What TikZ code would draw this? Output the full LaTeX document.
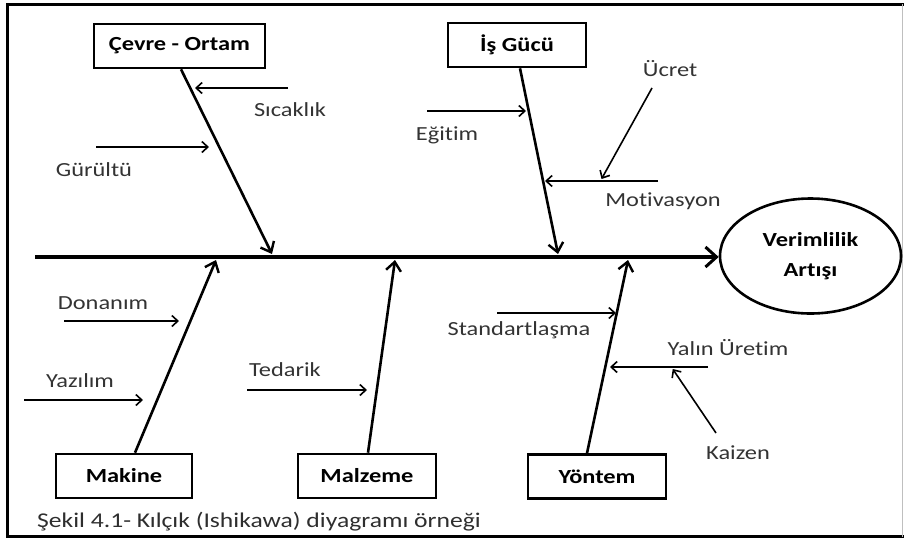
\documentclass[tikz,border=0pt]{standalone}
\usepackage{fontspec}
\setmainfont{Carlito}[FakeStretch=1.22,Ligatures=NoCommon]
\usetikzlibrary{arrows.meta,shapes.geometric,calc}

\begin{document}
\begin{tikzpicture}[x=1pt,y=-1pt,
  catbox/.style={draw,line width=2.6pt,inner sep=0pt,minimum height=44pt,
    font=\fontsize{20}{24}\selectfont\bfseries},
  lbl/.style={inner sep=0pt,text=black!80,font=\fontsize{20}{24}\selectfont},
  bone/.style={line width=2.6pt,-{Straight Barb[length=9pt,width=15pt,line width=2.4pt]}},
  twig/.style={line width=1.6pt,-{Straight Barb[length=6pt,width=11pt,line width=1.6pt]}}]

\useasboundingbox (0,0) rectangle (904,539);

% outer frame
\draw[line width=3pt] (904,4) -- (7.5,4) -- (7.5,536.5) -- (904,536.5);
\draw[black!25,line width=0.8pt] (902,4) -- (902,536.5);

% effect
\node[draw,ellipse,line width=2.6pt,minimum width=181pt,minimum height=115pt,
      align=center,font=\fontsize{20}{30}\selectfont\bfseries] (eff) at (810.5,256)
      {Verimlilik\\Artışı};

% spine
\coordinate (tail) at (35,257);
\draw[line width=3.6pt,-{Straight Barb[length=11pt,width=20pt,line width=3pt]}]
  (tail) -- (eff.west |- tail);

% categories
\node[catbox,minimum width=171pt] (cevre) at (179.5,46) {Çevre - Ortam};
\node[catbox,minimum width=138pt] (is)    at (517,45)   {İş Gücü};
\node[catbox,minimum width=136pt] (mak)   at (124,476)  {Makine};
\node[catbox,minimum width=138pt] (malz)  at (367,476)  {Malzeme};
\node[catbox,minimum width=138pt] (yon)   at (597,476.5){Yöntem};

% bone ends on the spine
\coordinate (cT) at (272,254);
\coordinate (iT) at (558,254);
\coordinate (mT) at (216,260);
\coordinate (zT) at (395,260);
\coordinate (yT) at (628,260);

\draw[bone] ($(cevre.south)+(1.5,0)$) -- (cT);
\draw[bone] ($(is.south)+(3,0)$) -- (iT);
\draw[bone] ($(mak.north)+(11,0)$) -- (mT);
\draw[bone] ($(malz.north)+(1,0)$) -- (zT);
\draw[bone] ($(yon.north)+(-10,0)$) -- (yT);

% sub-causes
\coordinate (sicS) at (288,88);  \coordinate (sicE) at (195,88);
\coordinate (gurS) at (96,147);  \coordinate (gurE) at (209,147);
\coordinate (egiS) at (427,111); \coordinate (egiE) at (526,111);
\coordinate (motS) at (658,181); \coordinate (motE) at (545,181);
\coordinate (ucrS) at (652,88);
\coordinate (donS) at (64,321);  \coordinate (donE) at (179,321);
\coordinate (yazS) at (24,400);  \coordinate (yazE) at (143,400);
\coordinate (tedS) at (247,390); \coordinate (tedE) at (367,390);
\coordinate (stdS) at (497,313); \coordinate (stdE) at (616,313);
\coordinate (yalS) at (708,367); \coordinate (yalE) at (610,367);
\coordinate (kaiS) at (716,433);

\draw[twig] (sicS) -- (sicE);
\draw[twig] (gurS) -- (gurE);
\draw[twig] (egiS) -- (egiE);
\draw[twig] (motS) -- (motE);
\draw[twig] (ucrS) -- ($(motS)!0.5!(motE)+(0,-2)$);
\draw[twig] (donS) -- (donE);
\draw[twig] (yazS) -- (yazE);
\draw[twig] (tedS) -- (tedE);
\draw[twig] (stdS) -- (stdE);
\draw[twig] (yalS) -- (yalE);
\draw[twig] (kaiS) -- ($(yalS)!0.36!(yalE)+(0,2)$);

% labels
\node[lbl] (l1)  at (290,110) {Sıcaklık};
\node[lbl] (l2)  at (94,170)  {Gürültü};
\node[lbl] (l3)  at (447,135) {Eğitim};
\node[lbl] (l4)  at (670,69)  {Ücret};
\node[lbl] (l5)  at (663,201) {Motivasyon};
\node[lbl] (l6)  at (103,303) {Donanım};
\node[lbl] (l7)  at (80,381)  {Yazılım};
\node[lbl] (l8)  at (285,370) {Tedarik};
\node[lbl] (l9)  at (519,330) {Standartlaşma};
\node[lbl] (l10) at (728,348) {Yalın Üretim};
\node[lbl] (l11) at (738,453) {Kaizen};

% caption
\node[lbl,anchor=west,text=black!82,font=\fontsize{21}{24}\selectfont] (cap) at (37,522)
  {Şekil 4.1- Kılçık (Ishikawa) diyagramı örneği};
\end{tikzpicture}
\end{document}
